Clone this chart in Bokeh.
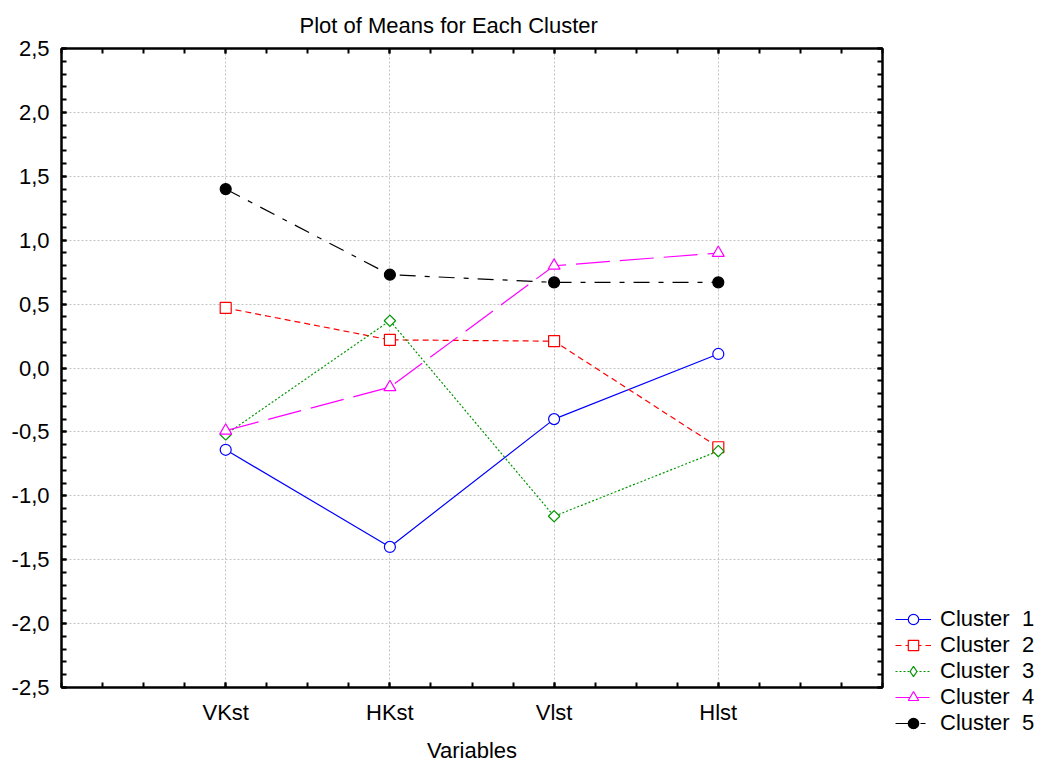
import math
from bokeh.plotting import figure
from bokeh.layouts import row, column
from bokeh.models import (FixedTicker, LinearAxis, Range1d, Legend, LegendItem, Title)
from bokeh.embed import file_html
from bokeh.resources import INLINE

variables = ["VKst", "HKst", "Vlst", "Hlst"]
cluster_names = ["Cluster  1", "Cluster  2", "Cluster  3", "Cluster  4", "Cluster  5"]
cluster1 = [-0.64, -1.40, -0.40, 0.11]
cluster2 = [0.47, 0.22, 0.21, -0.62]
cluster3 = [-0.52, 0.37, -1.16, -0.65]
cluster4 = [-0.49, -0.15, 0.80, 0.90]
cluster5 = [1.40, 0.73, 0.67, 0.67]
y_ticks = [-2.5, -2.0, -1.5, -1.0, -0.5, 0.0, 0.5, 1.0, 1.5, 2.0, 2.5]

FONT = "Liberation Sans"
FS = "22px"
xs = list(range(1, len(variables) + 1))

p = figure(width=890, height=765, output_backend="svg", toolbar_location=None,
           x_range=Range1d(0, 5), y_range=Range1d(-2.5, 2.5),
           min_border_left=61, min_border_top=48, min_border_right=8, min_border_bottom=77)
p.background_fill_color = "white"
p.border_fill_color = "white"
p.outline_line_color = "black"
p.outline_line_width = 2

xt = FixedTicker(ticks=xs, minor_ticks=[i * 0.25 for i in range(0, 21)])
yt = FixedTicker(ticks=y_ticks, minor_ticks=[round(-2.5 + i * 0.1, 2) for i in range(51)])
xlabels = {i + 1: v for i, v in enumerate(variables)}
ylabels = {t: (f"{t:.1f}").replace(".", ",") for t in y_ticks}

for ax in p.xaxis:
    ax.ticker = xt
    ax.major_label_overrides = xlabels
for ax in p.yaxis:
    ax.ticker = yt
    ax.major_label_overrides = ylabels

def style_axis(ax, labels=True):
    ax.axis_line_color = "black"
    ax.axis_line_width = 2
    ax.major_tick_in = 5
    ax.major_tick_out = 0
    ax.minor_tick_in = 5
    ax.minor_tick_out = 0
    ax.major_tick_line_width = 2
    ax.minor_tick_line_width = 2
    ax.major_tick_line_color = "black"
    ax.minor_tick_line_color = "black"
    ax.major_label_text_font = FONT
    ax.major_label_text_font_size = FS
    ax.major_label_text_color = "black"
    if not labels:
        ax.major_label_text_alpha = 0
        ax.major_label_text_font_size = "1px"
        ax.major_label_standoff = 0

style_axis(p.xaxis[0])
style_axis(p.yaxis[0])
p.xaxis[0].major_label_standoff = 12
p.yaxis[0].major_label_standoff = 12
p.xaxis[0].axis_label = "Variables"
p.xaxis[0].axis_label_text_font = FONT
p.xaxis[0].axis_label_text_font_size = FS
p.xaxis[0].axis_label_text_font_style = "normal"
p.xaxis[0].axis_label_text_color = "black"
p.xaxis[0].axis_label_standoff = 10

top_ax = LinearAxis(ticker=xt, major_label_overrides=xlabels)
right_ax = LinearAxis(ticker=yt, major_label_overrides=ylabels)
style_axis(top_ax, labels=False)
style_axis(right_ax, labels=False)
p.add_layout(top_ax, "above")
p.add_layout(right_ax, "right")

p.xgrid.ticker = FixedTicker(ticks=xs)
p.ygrid.ticker = FixedTicker(ticks=y_ticks)
for g in (p.xgrid[0], p.ygrid[0]):
    g.grid_line_color = "#c4c4c4"
    g.grid_line_dash = "2 2"
    g.grid_line_width = 1

title = Title(text="Plot of Means for Each Cluster", align="left", offset=238, standoff=21,
              text_font=FONT, text_font_size=FS, text_font_style="normal", text_color="black")
p.add_layout(title, "above")

series = [cluster1, cluster2, cluster3, cluster4, cluster5]
colors = ["#0000ff", "#ff0000", "#009600", "#ff00ff", "#000000"]
dashes = ["solid", "6 4", "2 2", "34 10", "16 9 5 9"]
markers = ["circle", "square", "square", "triangle", "circle"]
angles = [0, 0, math.pi / 4, 0, 0]
sizes = [11, 11, 8, 12, 11]
legend_markers = ["circle", "square", "diamond", "triangle", "circle"]
legend_sizes = [11, 11, 14, 12, 11]
fills = ["white", "white", "white", "white", "black"]

# legend panel: a separate axis-less figure whose view range holds none of the data
lg = figure(width=151, height=765, output_backend="svg", toolbar_location=None,
            x_axis_location=None, y_axis_location=None,
            x_range=Range1d(-20, -19), y_range=Range1d(-20, -19),
            min_border=0, outline_line_color=None)
lg.xgrid.visible = False
lg.ygrid.visible = False

items = []
for name, vals, c, d, m, a, s, lm, ls, f in zip(cluster_names, series, colors, dashes, markers,
                                                angles, sizes, legend_markers, legend_sizes, fills):
    p.line(xs, vals, line_color=c, line_width=1.2, line_dash=d)
    p.scatter(xs, vals, marker=m, angle=a, size=s, line_color=c, fill_color=f, line_width=1.2)
    ln = lg.line(xs, vals, line_color=c, line_width=1.2, line_dash=d)
    mk = lg.scatter(xs, vals, marker=lm, size=ls, line_color=c, fill_color=f, line_width=1.2)
    items.append(LegendItem(label=name, renderers=[ln, mk]))

legend = Legend(items=items, location=(5, 29), orientation="vertical",
                label_text_font=FONT, label_text_font_size=FS, label_text_color="black",
                glyph_width=36, glyph_height=26, spacing=0, label_standoff=9,
                padding=0, margin=0, border_line_color=None, background_fill_alpha=0)
lg.add_layout(legend, "center")

layout = row(p, column(lg), spacing=0)
open("out.html", "w").write(file_html(layout, INLINE))
